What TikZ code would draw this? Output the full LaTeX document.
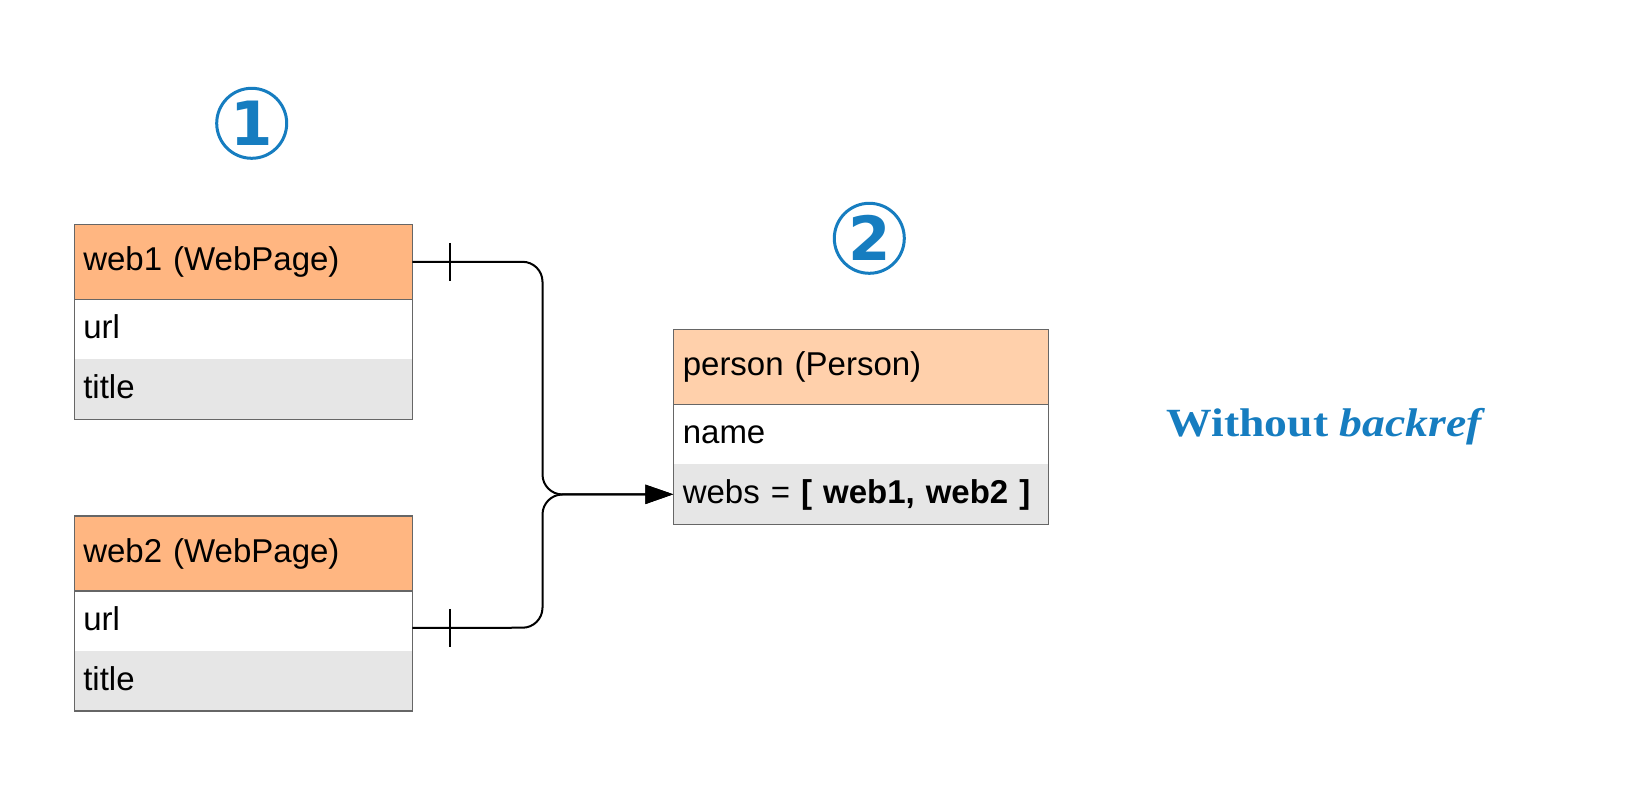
\documentclass[tikz,border=0pt]{standalone}
\usepackage{fontspec}
\usepackage{graphicx}
\setmainfont{Liberation Sans}
\newfontfamily\lblfont{Liberation Serif}
\newfontfamily\badgefont{DejaVu Sans}
\usetikzlibrary{arrows.meta}
\definecolor{webor}{HTML}{FFB681}
\definecolor{peror}{HTML}{FFD0AB}
\definecolor{rowgray}{HTML}{E6E6E6}
\definecolor{boxgray}{HTML}{666666}
\definecolor{badgeblue}{HTML}{167DC0}
\tikzset{
  rowbox/.style={anchor=north west, minimum width=338, text width=320, align=left,
    inner xsep=9, inner ysep=0, outer sep=0, minimum height=60,
    font=\fontsize{33}{38}\selectfont, text height=24, text depth=6},
  hdrbox/.style={rowbox, draw=boxgray, line width=1.3, minimum height=75},
  prow/.style={minimum width=375, text width=356, inner xsep=9.5},
  outline/.style={draw=boxgray, line width=1.3},
  conn/.style={draw=black, line width=2},
  badge/.style={circle, draw=badgeblue, line width=3, minimum size=70, inner sep=0,
    text=badgeblue, font=\badgefont\bfseries\fontsize{61}{62}\selectfont},
}
\begin{document}
\begin{tikzpicture}[x=1pt,y=-1pt]
\useasboundingbox (0,0) rectangle (1631,786);
\fill[white] (0,0) rectangle (1631,786);

% badges
\node[badge] (b1) at (251.7,123.3) {1};
\node[badge] (b2) at (869.3,238.3) {2};

% web1
\node[hdrbox, fill=webor] (w1h) at (74.3,224.3) {web1 (WebPage)};
\node[rowbox, fill=white] (w1u) at (w1h.south west) {url};
\node[rowbox, fill=rowgray] (w1t) at (w1u.south west) {title};
\draw[outline] (w1h.north west) rectangle (w1t.south east);
\draw[outline] (w1h.south west) -- (w1h.south east);

% web2
\node[hdrbox, fill=webor] (w2h) at (74.3,516) {web2 (WebPage)};
\node[rowbox, fill=white] (w2u) at (w2h.south west) {url};
\node[rowbox, fill=rowgray] (w2t) at (w2u.south west) {title};
\draw[outline] (w2h.north west) rectangle (w2t.south east);
\draw[outline] (w2h.south west) -- (w2h.south east);

% person
\node[hdrbox, prow, fill=peror] (ph) at (673.3,329.3) {person (Person)};
\node[rowbox, prow, fill=white] (pn) at (ph.south west) {name};
\node[rowbox, prow, fill=rowgray] (pw) at (pn.south west) {webs = \textbf{[ web1, web2 ]}};
\draw[outline] (ph.north west) rectangle (pw.south east);
\draw[outline] (ph.south west) -- (ph.south east);

% label
\node[anchor=base west, inner sep=0, text=badgeblue] (lbl) at (1166.7,436)
  {\scalebox{1.14}[1]{\lblfont\fontsize{40}{44}\selectfont\bfseries Without \textit{backref}}};

% connectors
\coordinate (s1) at (w1h.east);
\coordinate (s2) at ([yshift=-6.9]w2u.east);
\coordinate (t1) at ([xshift=37.7]s1);
\coordinate (t2) at ([xshift=37.7]s2);
\draw[conn, rounded corners=20, -{Triangle[length=28,width=19]}]
  (s1) -- (542.5,261.8) -- (542.5,494.5) -- (pw.west);
\draw[conn, rounded corners=20, -{Triangle[length=28,width=19]}]
  (s2) -- (542.5,627.7) -- (542.5,494.5) -- (pw.west);
\draw[conn] (t1) ++(0,-19) -- ++(0,38);
\draw[conn] (t2) ++(0,-19) -- ++(0,38);
\end{tikzpicture}
\end{document}
